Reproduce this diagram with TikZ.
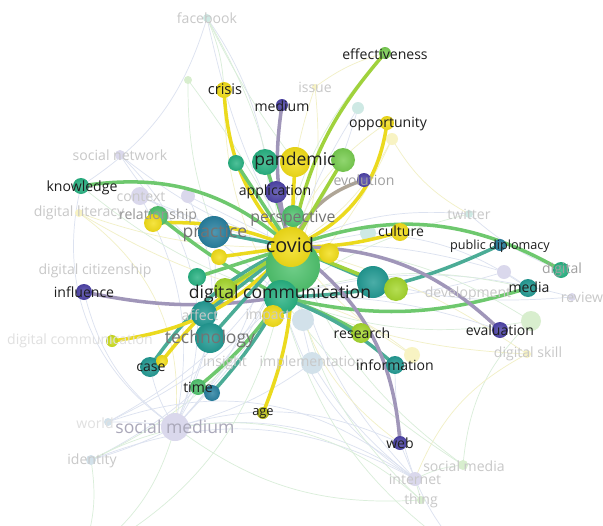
\documentclass[tikz,border=0pt]{standalone}
\usepackage{fontspec}
\setmainfont{Open Sans}
\definecolor{vY}{RGB}{243,222,24}
\definecolor{vYG}{RGB}{165,215,45}
\definecolor{vLG}{RGB}{120,205,80}
\definecolor{vG}{RGB}{80,195,110}
\definecolor{vGT}{RGB}{40,178,130}
\definecolor{vT}{RGB}{35,155,148}
\definecolor{vTB}{RGB}{40,128,160}
\definecolor{vP}{RGB}{78,68,168}
\definecolor{vO}{RGB}{185,190,20}
\definecolor{vYO}{RGB}{205,222,30}
\definecolor{fLav}{RGB}{218,216,236}
\definecolor{fTeal}{RGB}{206,233,228}
\definecolor{fGreen}{RGB}{216,238,206}
\definecolor{fYel}{RGB}{248,243,195}
\definecolor{fBlue}{RGB}{210,225,234}
\definecolor{eY}{RGB}{235,218,30}
\definecolor{eYG}{RGB}{160,210,60}
\definecolor{eG}{RGB}{110,200,110}
\definecolor{eT}{RGB}{75,172,150}
\definecolor{eP}{RGB}{160,150,185}
\definecolor{eGr}{RGB}{175,165,150}
\definecolor{eF1}{RGB}{220,226,240}
\definecolor{eF2}{RGB}{218,238,218}
\definecolor{eF3}{RGB}{242,240,198}
\definecolor{tDk}{RGB}{30,30,30}
\definecolor{tMd}{RGB}{115,115,115}
\definecolor{tLt}{RGB}{200,200,200}
\definecolor{tXl}{RGB}{224,224,224}
\definecolor{tSm}{RGB}{170,168,185}

\begin{document}
\begin{tikzpicture}[x=0.03cm, y=-0.03cm,
    vn/.style={circle, inner sep=0pt, minimum size=#1*0.06cm},
    sph/.style={inner color=#1!82!white, outer color=#1!94!black},
    he/.style={draw=#1, line width=3pt, line cap=round},
    fe/.style={draw=#1, line width=0.6pt},
    lbl/.style={inner sep=0pt, font=\fontsize{12}{12}\selectfont, text=tDk},
    big/.style={font=\fontsize{15}{15}\selectfont},
    flbl/.style={lbl, text=tLt}]
  \useasboundingbox[fill=white] (0,0) rectangle (603,526);
  \clip (0,0) rectangle (603,526);
  % --- positions (pixel grid of the map) ---
  \coordinate (covid) at (291,247);
  \coordinate (cbig) at (293,266);
  \coordinate (digcomm) at (281,297);
  \coordinate (pandY) at (295,162);
  \coordinate (pandG) at (265,162);
  \coordinate (pandL) at (343,160);
  \coordinate (pandT) at (236,163);
  \coordinate (application) at (276,192);
  \coordinate (perspective) at (293,216);
  \coordinate (practice) at (214,232);
  \coordinate (culture) at (400,232);
  \coordinate (crisis) at (224,90);
  \coordinate (medium) at (282,105);
  \coordinate (effectiveness) at (385,53);
  \coordinate (opportunity) at (387,123);
  \coordinate (evolution) at (364,180);
  \coordinate (knowledge) at (81,186);
  \coordinate (influence) at (84,292);
  \coordinate (media) at (528,288);
  \coordinate (pubdip) at (500,245);
  \coordinate (digital) at (561,270);
  \coordinate (evaluation) at (500,330);
  \coordinate (research) at (361,333);
  \coordinate (information) at (395,365);
  \coordinate (web) at (400,443);
  \coordinate (age) at (263,413);
  \coordinate (time) at (198,387);
  \coordinate (timeB) at (212,393);
  \coordinate (caseT) at (150,367);
  \coordinate (caseY) at (162,361);
  \coordinate (technology) at (210,338);
  \coordinate (affect) at (204,314);
  \coordinate (relG) at (158,216);
  \coordinate (relY) at (153,223);
  \coordinate (dcleft) at (112,341);
  \coordinate (eastT) at (373,282);
  \coordinate (eastYG) at (396,289);
  \coordinate (impact) at (273,316);
  \coordinate (leftG) at (197,277);
  \coordinate (leftYG) at (225,289);
  \coordinate (yelL) at (219,257);
  \coordinate (yelR) at (329,253);
  % faded items
  \coordinate (facebook) at (207,18);
  \coordinate (fTL) at (188,80);
  \coordinate (issue) at (315,87);
  \coordinate (fM) at (358,108);
  \coordinate (fOrg) at (392,139);
  \coordinate (socialnet) at (120,155);
  \coordinate (context) at (140,196);
  \coordinate (fInno) at (188,196);
  \coordinate (digliteracy) at (79,213);
  \coordinate (twitter) at (469,214);
  \coordinate (fCT) at (368,233);
  \coordinate (digtrans) at (504,272);
  \coordinate (review) at (572,297);
  \coordinate (fLG) at (531,321);
  \coordinate (digskill) at (527,354);
  \coordinate (fBl) at (303,320);
  \coordinate (implementation) at (312,363);
  \coordinate (fYinfo) at (412,355);
  \coordinate (world) at (108,422);
  \coordinate (identity) at (91,460);
  \coordinate (socmedium) at (175,427);
  \coordinate (socmedia) at (463,465);
  \coordinate (internet) at (415,479);
  \coordinate (thing) at (421,500);
  \coordinate (offbl) at (80,560);
  \coordinate (offbr) at (470,560);

  % --- faint background links ---
  \foreach \a/\b/\c/\k in {facebook/covid/eF1/-8, facebook/crisis/eF2/10, facebook/pandY/eF2/-5,
      facebook/socmedium/eF1/40, facebook/knowledge/eF1/20, facebook/digcomm/eF2/15,
      fTL/covid/eF2/5, fTL/practice/eF2/-10, issue/covid/eF3/-10, issue/effectiveness/eF3/10,
      issue/digcomm/eF3/15, fM/covid/eF1/10, fM/digcomm/eF1/-10, fOrg/covid/eF3/15,
      fOrg/twitter/eF3/-15, fOrg/digcomm/eF3/10, socialnet/covid/eF1/-10, socialnet/socmedium/eF1/35,
      socialnet/digcomm/eF1/-15, context/covid/eF1/-5, context/digcomm/eF1/10, context/socmedium/eF1/20,
      fInno/covid/eF1/0, fInno/technology/eF1/15, digliteracy/covid/eF3/-10, digliteracy/socmedium/eF3/30,
      digliteracy/digcomm/eF3/-8, twitter/covid/eF1/-15, twitter/digital/eF1/-10, twitter/digcomm/eF2/-10,
      fCT/covid/eF1/0, fCT/media/eF1/15, digtrans/covid/eF1/-10, digtrans/media/eF1/5,
      digtrans/digcomm/eF1/10, review/digcomm/eF1/-15, review/covid/eF1/15, fLG/covid/eF2/-15,
      fLG/socmedia/eF2/-20, fLG/digcomm/eF2/15, digskill/covid/eF3/-10, digskill/digcomm/eF3/10,
      digskill/internet/eF3/-20, fBl/covid/eF1/0, implementation/covid/eF1/5, implementation/socmedium/eF1/10,
      implementation/internet/eF1/-10, fYinfo/covid/eF3/10, fYinfo/digcomm/eF3/-15, world/covid/eF1/-15,
      world/socmedium/eF1/5, world/digcomm/eF1/-10, identity/covid/eF1/-20, identity/socmedium/eF1/-5,
      identity/internet/eF1/25, identity/digcomm/eF2/-15, socmedium/covid/eF1/-10, socmedium/digcomm/eF1/-5,
      socmedium/internet/eF1/20, socmedium/technology/eF1/0, socmedium/practice/eF1/-15, socmedium/time/eF1/0,
      socmedia/covid/eF2/15, socmedia/digcomm/eF2/10, socmedia/internet/eF2/-10, internet/covid/eF1/15,
      internet/web/eF1/0, internet/digcomm/eF1/20, internet/information/eF1/10, thing/covid/eF2/20,
      thing/internet/eF2/0, thing/socmedium/eF2/20, identity/thing/eF2/35, world/internet/eF1/30,
      knowledge/socmedium/eF1/-35, knowledge/digcomm/eF2/-10, influence/socmedium/eF1/-20, crisis/digcomm/eF3/-15,
      effectiveness/digcomm/eF2/-20, opportunity/digcomm/eF3/-25, media/digcomm/eF2/-15, evaluation/digcomm/eF1/-10,
      offbl/identity/eF2/-15, offbl/socmedium/eF2/-20, offbl/digcomm/eF2/-25, offbr/internet/eF1/10,
      offbr/digcomm/eF2/20, web/socmedium/eF1/-20, web/covid/eF3/25, caseT/socmedium/eF1/-10}
    \draw[fe=\c] (\a) to[bend left=\k] (\b);

  % --- faded items ---
  \foreach \n/\r/\c in {facebook/4/fTeal, fTL/4/fGreen, issue/3/fYel, fM/6/fTeal, fOrg/6/fYel,
      socialnet/5/fLav, context/9/fLav, fInno/7/fLav, digliteracy/4/fYel, twitter/4/fTeal,
      fCT/8/fTeal, digtrans/7/fLav, review/4/fLav, fLG/10/fGreen, digskill/4/fYel,
      fBl/11/fBlue, implementation/11/fBlue, fYinfo/8/fYel, world/4/fBlue, identity/5/fBlue,
      socmedium/14/fLav, socmedia/5/fGreen, internet/7/fLav, thing/4/fGreen}
    \node[vn=\r, fill=\c] (\n-b) at (\n) {};

  % --- highlighted links ---
  \draw[he=eY] (crisis) to[bend right=20] (covid);
  \draw[he=eYG] (effectiveness) to[bend right=15] (covid);
  \draw[he=eY] (opportunity) to[bend left=30] (covid);
  \draw[he=eP] (medium) to[bend right=12] (covid);
  \draw[he=eGr] (evolution) to[bend right=25] (covid);
  \draw[he=eY] (culture) to[bend left=8] (covid);
  \draw[he=eG] (knowledge) to[bend left=25] (covid);
  \draw[he=eY] (relY) to[bend left=12] (covid);
  \draw[he=eG] (relG) to[bend right=5] (digcomm);
  \draw[he=eP] (influence) to[bend right=10] (digcomm);
  \draw[he=eG] (covid) to[bend left=25] (digital);
  \draw[he=eT] (digcomm) to[bend right=12] (pubdip);
  \draw[he=eG] (digcomm) to[bend right=15] (media);
  \draw[he=eP] (covid) to[bend left=22] (evaluation);
  \draw[he=eG] (digcomm) to[bend left=5] (research);
  \draw[he=eT] (digcomm) to[bend left=10] (information);
  \draw[he=eP] (covid) to[bend left=25] (web);
  \draw[he=eY] (covid) to[bend left=12] (age);
  \draw[he=eG] (digcomm) to[bend left=8] (time);
  \draw[he=eT] (digcomm) to[bend left=6] (timeB);
  \draw[he=eT] (caseT) to[bend left=15] (covid);
  \draw[he=eY] (caseY) to[bend left=10] (covid);
  \draw[he=eY] (dcleft) to[bend right=20] (covid);
  \foreach \a/\c in {practice/eT, pandY/eY, pandG/eG, pandL/eYG, pandT/eG, application/eP,
      technology/eT, affect/eT, leftG/eG, leftYG/eYG, impact/eY, eastT/eT, eastYG/eYG,
      yelR/eY, yelL/eY}
    \draw[he=\c] (\a) -- (covid);

  % --- highlighted items ---
  \foreach \n/\r/\c in {cbig/27/vG, digcomm/17/vGT, pandG/13/vGT, pandY/15/vY, pandL/12/vLG,
      pandT/8/vGT, application/11/vP, perspective/11/vG, practice/16/vTB, culture/9/vY,
      crisis/8/vY, medium/6/vP, effectiveness/6/vLG, opportunity/7/vY, evolution/7/vP,
      knowledge/8/vGT, influence/8/vP, media/9/vT, pubdip/6/vTB, digital/8/vGT,
      evaluation/8/vP, research/10/vYG, information/9/vT, web/7/vP, age/6/vO,
      time/8/vG, timeB/8/vTB, caseT/10/vT, caseY/6/vY, affect/13/vT, technology/15/vT,
      relG/10/vG, relY/9/vY, dcleft/6/vYO, eastT/16/vT, eastYG/12/vYG, impact/11/vY,
      leftG/9/vGT, leftYG/11/vYG, yelL/8/vY, yelR/10/vY, covid/20/vY}
    \node[vn=\r, sph=\c] (\n-b) at (\n) {};

  % --- faded labels ---
  \node[flbl] (facebook-l) at (facebook) {facebook};
  \node[flbl] (issue-l) at (issue) {issue};
  \node[flbl] (socialnet-l) at (socialnet) {social network};
  \node[flbl] (context-l) at (141,197) {context};
  \node[flbl] (digliteracy-l) at (digliteracy) {digital literacy};
  \node[flbl] (digcit-l) at (95,271) {digital citizenship};
  \node[lbl, text=tXl] (dcfade-l) at (80,341) {digital communication};
  \node[flbl] (twitter-l) at (twitter) {twitter};
  \node[flbl] (development-l) at (468,294) {development};
  \node[flbl] (review-l) at (582,297) {review};
  \node[flbl] (digskill-l) at (528,354) {digital skill};
  \node[flbl] (socmedia-l) at (464,466) {social media};
  \node[flbl] (internet-l) at (internet) {internet};
  \node[flbl] (thing-l) at (421,501) {thing};
  \node[flbl] (identity-l) at (92,461) {identity};
  \node[lbl, text=tXl] (world-l) at (95,423) {world};
  \node[flbl] (insight-l) at (225,363) {insight};
  \node[flbl] (implementation-l) at (implementation) {implementation};
  \node[flbl] (affect-l) at (200,315) {affect};
  \node[flbl] (impact-l) at (268,316) {impact};
  \node[lbl, text=tLt!80!black] (evolution-l) at (evolution) {evolution};
  \node[lbl, text=tLt!80!black] (digital-l) at (562,270) {digital};
  \node[lbl, text=tSm, big] (socmedium-l) at (socmedium) {social medium};
  \node[lbl, text=tLt!75!black] (relationship-l) at (158,216) {relationship};
  \node[lbl, text=tMd, font=\fontsize{13.5}{13.5}\selectfont] (perspective-l) at (293,219) {perspective};
  \node[lbl, text=tMd, big] (practice-l) at (215,233) {practice};
  \node[lbl, text=tMd, big] (technology-l) at (210,339) {technology};

  % --- labels ---
  \node[lbl, font=\fontsize{17}{17}\selectfont] (covid-l) at (290,245) {covid};
  \node[lbl, big] (digcomm-l) at (280,294) {digital communication};
  \node[lbl, big] (pandemic-l) at (295,161) {pandemic};
  \node[lbl] (application-l) at (275,192) {application};
  \node[lbl] (culture-l) at (401,231) {culture};
  \node[lbl, font=\fontsize{12.5}{12.5}\selectfont] (crisis-l) at (225,89) {crisis};
  \node[lbl] (medium-l) at (282,106) {medium};
  \node[lbl] (effectiveness-l) at (385,54) {effectiveness};
  \node[lbl] (opportunity-l) at (388,124) {opportunity};
  \node[lbl] (knowledge-l) at (82,188) {knowledge};
  \node[lbl] (influence-l) at (84,292) {influence};
  \node[lbl] (media-l) at (529,287) {media};
  \node[lbl, font=\fontsize{10.8}{11}\selectfont] (pubdip-l) at (500,246) {public diplomacy};
  \node[lbl] (evaluation-l) at (500,330) {evaluation};
  \node[lbl] (research-l) at (362,333) {research};
  \node[lbl] (information-l) at (395,365) {information};
  \node[lbl] (web-l) at (400,443) {web};
  \node[lbl, font=\fontsize{11}{11}\selectfont] (age-l) at (263,414) {age};
  \node[lbl] (time-l) at (198,387) {time};
  \node[lbl] (case-l) at (151,368) {case};
\end{tikzpicture}
\end{document}
